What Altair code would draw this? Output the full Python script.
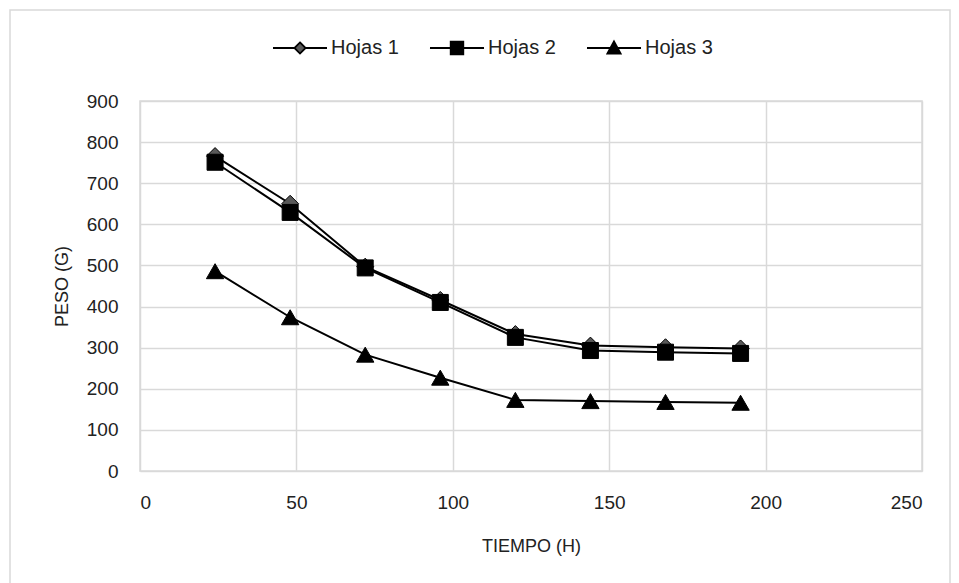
import altair as alt
import pandas as pd

hours = [24, 48, 72, 96, 120, 144, 168, 192]
hojas1 = [766, 650, 497, 416, 333, 305, 301, 298]
hojas2 = [751, 629, 494, 410, 325, 293, 289, 286]
hojas3 = [486, 374, 283, 227, 173, 170, 168, 166]
series_names = ["Hojas 1", "Hojas 2", "Hojas 3"]
x_ticks = [0, 50, 100, 150, 200, 250]
y_ticks = [0, 100, 200, 300, 400, 500, 600, 700, 800, 900]

rows = []
for name, vals in zip(series_names, [hojas1, hojas2, hojas3]):
    for h, v in zip(hours, vals):
        rows.append({"series": name, "hours": h, "peso": v})
df = pd.DataFrame(rows)

FONT = "Liberation Sans"
GRID = "#d9d9d9"

x_enc = alt.X("hours:Q", scale=alt.Scale(domain=[0, 250], nice=False),
              axis=alt.Axis(values=x_ticks, title="TIEMPO (H)"))
y_enc = alt.Y("peso:Q", scale=alt.Scale(domain=[0, 900], nice=False),
              axis=alt.Axis(values=y_ticks, title="PESO (G)"))

base = alt.Chart(df)

frame = alt.Chart(pd.DataFrame({"a": [0]})).mark_rect(
    fill="white", fillOpacity=0, stroke=GRID, strokeWidth=1.5
).encode(x=alt.value(-130), x2=alt.value(810), y=alt.value(-91), y2=alt.value(520))

lines = base.mark_line(color="black", strokeWidth=2).encode(
    x=x_enc, y=y_enc, detail="series:N"
)

p1 = base.transform_filter(alt.datum.series == "Hojas 1").mark_point(
    shape="diamond", filled=True, fill="#595959", stroke="black", strokeWidth=1,
    size=290, opacity=1
).encode(x=x_enc, y=y_enc)

p2 = base.transform_filter(alt.datum.series == "Hojas 2").mark_point(
    shape="square", filled=True, fill="black", stroke="black", strokeWidth=1,
    size=256, opacity=1
).encode(x=x_enc, y=y_enc)

p3 = base.transform_filter(alt.datum.series == "Hojas 3").mark_point(
    shape="triangle-up", filled=True, fill="black", stroke="black", strokeWidth=1,
    size=300, opacity=1
).encode(x=x_enc, y=y_enc)

legend_paths = [
    "M-3.86,0H-0.8M0.8,0H3.86M0,-0.8L0.8,0L0,0.8L-0.8,0Z",
    "M-3.86,0H-0.9M0.9,0H3.86M-0.9,-0.9H0.9V0.9H-0.9Z",
    "M-3.86,0H-0.5M0.5,0H3.86M0,-0.95L0.95,0.8H-0.95Z",
]

leg = base.transform_filter("false").mark_point(
    filled=True, strokeWidth=1.8, opacity=1
).encode(
    shape=alt.Shape("series:N", title=None,
                    scale=alt.Scale(domain=series_names, range=legend_paths),
                    legend=alt.Legend(orient="none", direction="horizontal",
                                      legendX=150, legendY=-63,
                                      symbolSize=196, labelOffset=21,
                                      columnPadding=27,
                                      symbolStrokeWidth=1.8,
                                      symbolOpacity=1,
                                      labelFontSize=20, labelFont=FONT,
                                      labelColor="#222")),
    fill=alt.Fill("series:N", title=None,
                  scale=alt.Scale(domain=series_names,
                                  range=["#595959", "black", "black"])),
    stroke=alt.Stroke("series:N", title=None,
                      scale=alt.Scale(domain=series_names,
                                      range=["black", "black", "black"])),
)

chart = alt.layer(frame, lines, p1, p2, p3, leg).properties(
    width=782, height=370,
    autosize=alt.AutoSizeParams(type="none"),
    padding={"left": 140, "top": 101, "right": 37, "bottom": 112},
    background="white",
).configure_view(
    stroke=GRID, strokeWidth=1.5
).configure_axis(
    grid=True, gridColor=GRID, gridWidth=1.5, domain=False, ticks=False,
    labelFont=FONT, labelFontSize=19, labelColor="#222", labelPadding=22,
    titleFont=FONT, titleFontSize=18, titleFontWeight="normal", titleColor="#222",
).configure_axisX(
    titlePadding=25
).configure_axisY(
    titlePadding=15
)

chart.save("out.html", embed_options={"renderer": "svg", "actions": False})
